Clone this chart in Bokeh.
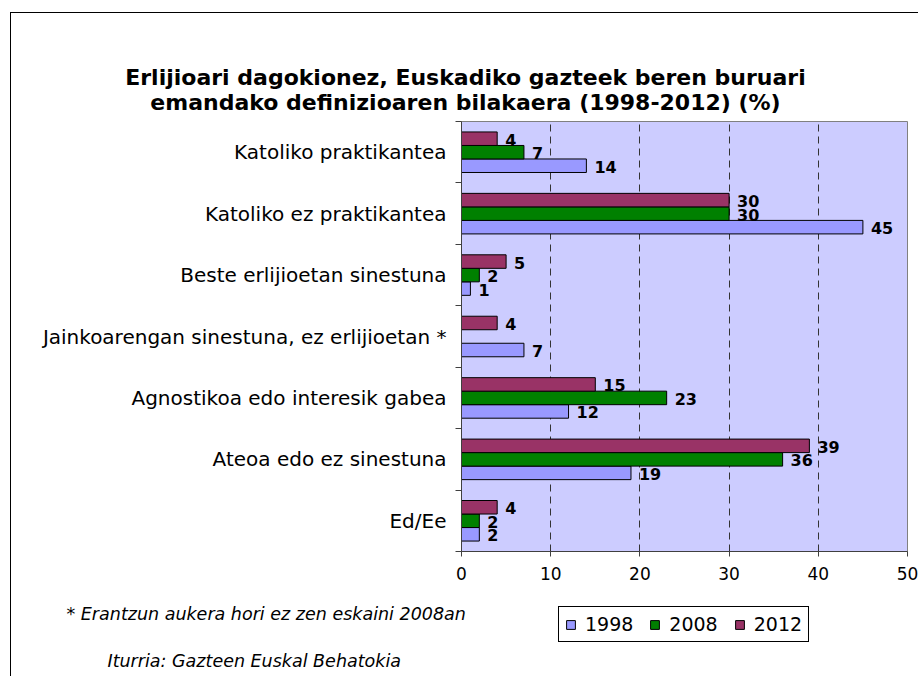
from bokeh.plotting import figure
from bokeh.models import (ColumnDataSource, Range1d, FixedTicker, LabelSet, Label,
                          Legend, LegendItem)
from bokeh.layouts import column
from bokeh.core.properties import value
from bokeh.embed import file_html
from bokeh.resources import INLINE

# ---- data ----
categories = [
    "Katoliko praktikantea",
    "Katoliko ez praktikantea",
    "Beste erlijioetan sinestuna",
    "Jainkoarengan sinestuna, ez erlijioetan *",
    "Agnostikoa edo interesik gabea",
    "Ateoa edo ez sinestuna",
    "Ed/Ee",
]
years = ["1998", "2008", "2012"]
v1998 = [14, 45, 1, 7, 12, 19, 2]
v2008 = [7, 30, 2, None, 23, 36, 2]
v2012 = [4, 30, 5, 4, 15, 39, 4]
x_ticks = [0, 10, 20, 30, 40, 50]

title_lines = ["Erlijioari dagokionez, Euskadiko gazteek beren buruari",
               "emandako definizioaren bilakaera (1998-2012) (%)"]
footnote = "* Erantzun aukera hori ez zen eskaini 2008an"
source_note = "Iturria: Gazteen Euskal Behatokia"

colors = {"1998": "#9999FF", "2008": "#008000", "2012": "#993366"}
offsets = {"1998": -0.22, "2008": 0.0, "2012": 0.22}
series = {"1998": v1998, "2008": v2008, "2012": v2012}

FONT = "DejaVu Sans"
W = 907
n = len(categories)
centers = [n - i - 0.5 for i in range(n)]


def blank_fig(h, xr=(0, 1), yr=(0, 1)):
    f = figure(width=W, height=h, output_backend="svg", toolbar_location=None,
               x_range=Range1d(*xr), y_range=Range1d(*yr),
               x_axis_type=None, y_axis_type=None, min_border=0,
               background_fill_color="white", border_fill_color="white",
               outline_line_color=None, frame_align=False)
    f.grid.visible = False
    return f


# ---- title strip ----
top = blank_fig(106)
for i, t in enumerate(title_lines):
    top.add_layout(Label(x=454, y=42 - 25 * i, x_units="screen", y_units="screen",
                         text=t, text_align="center", text_baseline="middle",
                         text_font=FONT, text_font_size="22px",
                         text_font_style="bold", text_color="black"))

# ---- main chart ----
p = figure(width=W, height=477, output_backend="svg", toolbar_location=None,
           x_range=Range1d(0, 50), y_range=Range1d(0, n),
           min_border_left=450, min_border_right=11, min_border_top=2,
           min_border_bottom=45, background_fill_color="#CCCCFF",
           border_fill_color="white", outline_line_color="#808080",
           frame_align=False)

sources = {}
for yr in years:
    ys, xs, labs = [], [], []
    for c, v in zip(centers, series[yr]):
        if v is None:
            continue
        ys.append(c + offsets[yr])
        xs.append(v)
        labs.append(str(v))
    src = ColumnDataSource(dict(y=ys, right=xs, lab=labs))
    sources[yr] = src
    p.hbar(y="y", right="right", left=0, height=0.22, source=src,
           fill_color=colors[yr], line_color="black", line_width=1)
    p.add_layout(LabelSet(x="right", y="y", text="lab", source=src, x_offset=8,
                          y_offset=-1, text_baseline="middle", text_align="left",
                          text_font=value(FONT), text_font_size="16px",
                          text_font_style="bold", text_color="black"))

p.xaxis.ticker = FixedTicker(ticks=x_ticks)
p.xaxis.axis_line_color = "#404040"
p.xaxis.major_tick_line_color = "#404040"
p.xaxis.major_tick_out = 5
p.xaxis.major_tick_in = 0
p.xaxis.minor_tick_line_color = None
p.xaxis.major_label_standoff = 10
p.xaxis.major_label_text_font = FONT
p.xaxis.major_label_text_font_size = "17px"
p.xaxis.major_label_text_color = "black"

p.yaxis.ticker = FixedTicker(ticks=centers, minor_ticks=list(range(n + 1)))
p.yaxis.major_label_overrides = {c: name for c, name in zip(centers, categories)}
p.yaxis.axis_line_color = "#404040"
p.yaxis.major_tick_line_color = None
p.yaxis.minor_tick_line_color = "#404040"
p.yaxis.minor_tick_out = 6
p.yaxis.minor_tick_in = 0
p.yaxis.major_label_standoff = 9
p.yaxis.major_label_text_font = FONT
p.yaxis.major_label_text_font_size = "20px"
p.yaxis.major_label_text_color = "black"

p.xgrid.ticker = FixedTicker(ticks=x_ticks)
p.xgrid.grid_line_color = "#333333"
p.xgrid.grid_line_dash = "7 5"
p.ygrid.grid_line_color = None

# ---- footnotes + legend strip ----
# ranges lie outside the data and the shared bars are hidden: they only feed the legend
bot = blank_fig(80, xr=(1000, 1001), yr=(1000, 1001))
bot.add_layout(Label(x=55, y=63, x_units="screen", y_units="screen", text=footnote,
                     text_align="left", text_baseline="middle", text_font=FONT,
                     text_font_size="17.5px", text_font_style="italic",
                     text_color="black"))
bot.add_layout(Label(x=96, y=16, x_units="screen", y_units="screen", text=source_note,
                     text_align="left", text_baseline="middle", text_font=FONT,
                     text_font_size="17.5px", text_font_style="italic",
                     text_color="black"))
items = []
for yr in years:
    r = bot.hbar(y="y", right="right", left=0, height=0.22, source=sources[yr],
                 fill_color=colors[yr], line_color="black", line_width=1,
                 visible=False)
    items.append(LegendItem(label=yr, renderers=[r]))
legend = Legend(items=items, orientation="horizontal", location=(547, 34),
                glyph_width=11, glyph_height=11, label_standoff=9, spacing=16,
                padding=6, margin=0, border_line_color="black", border_line_width=1,
                border_line_alpha=1, label_text_font=FONT,
                label_text_font_size="19px", label_text_color="black",
                background_fill_color="white", background_fill_alpha=1)
bot.add_layout(legend, "center")

layout = column(top, p, bot, spacing=0,
                styles={"margin-left": "10px", "margin-top": "12px",
                        "border-left": "1px solid black",
                        "border-top": "1px solid black"})

open("out.html", "w").write(file_html(layout, INLINE))
